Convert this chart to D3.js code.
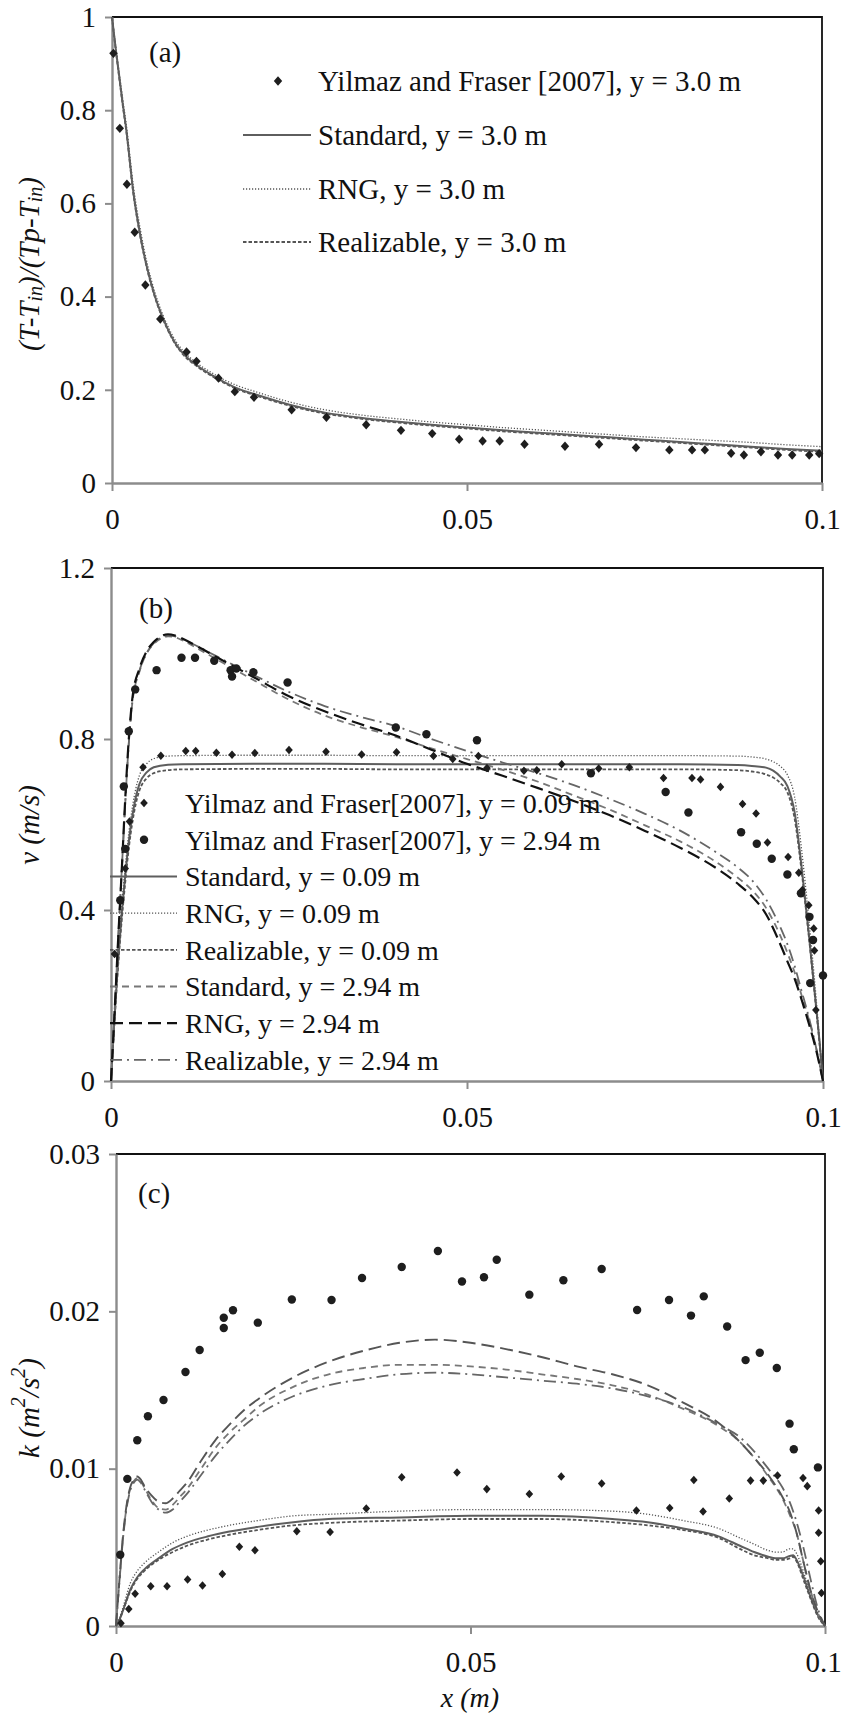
<!DOCTYPE html>
<html>
<head>
<meta charset="utf-8">
<script src="https://cdn.jsdelivr.net/npm/d3@7"></script>
<style>
  body { margin: 0; background: #fff; }
  svg { display: block; }
  text { font-family: "Liberation Serif", "Times New Roman", serif; fill: #111; }
</style>
</head>
<body>
<svg id="fig" width="843" height="1715" font-family="Liberation Serif, Times New Roman, serif"></svg>
<script>
// ---------- shared axis ticks ----------
const xTickVals = [0, 0.05, 0.1];
const xTickText = ["0", "0.05", "0.1"];

// ---------- panel (a): dimensionless temperature ----------
const aYTickVals = [0, 0.2, 0.4, 0.6, 0.8, 1];
const aYTickText = ["0", "0.2", "0.4", "0.6", "0.8", "1"];
const aExpX = [0.0002, 0.0011, 0.0021, 0.0032, 0.0047, 0.0068, 0.0105, 0.0119, 0.0150, 0.0173, 0.0200, 0.0253, 0.0302, 0.0358, 0.0407, 0.0451, 0.0489, 0.0522, 0.0546, 0.0581, 0.0638, 0.0686, 0.0738, 0.0785, 0.0817, 0.0835, 0.0872, 0.0890, 0.0914, 0.0938, 0.0958, 0.0982, 0.0996];
const aExpY = [0.922, 0.761, 0.641, 0.538, 0.425, 0.352, 0.281, 0.261, 0.225, 0.196, 0.184, 0.157, 0.141, 0.125, 0.113, 0.106, 0.094, 0.090, 0.090, 0.083, 0.079, 0.083, 0.076, 0.071, 0.071, 0.071, 0.064, 0.060, 0.067, 0.060, 0.060, 0.060, 0.063];
const aSimX = [0, 0.0005, 0.001, 0.0015, 0.002, 0.003, 0.004, 0.005, 0.006, 0.007, 0.008, 0.009, 0.010, 0.012, 0.014, 0.016, 0.018, 0.020, 0.025, 0.030, 0.035, 0.040, 0.045, 0.050, 0.055, 0.060, 0.065, 0.070, 0.075, 0.080, 0.085, 0.090, 0.095, 0.100];
const aStd  = [1.000, 0.935, 0.875, 0.815, 0.760, 0.625, 0.530, 0.458, 0.403, 0.360, 0.326, 0.298, 0.278, 0.252, 0.232, 0.215, 0.201, 0.191, 0.168, 0.151, 0.140, 0.132, 0.125, 0.119, 0.113, 0.108, 0.103, 0.098, 0.093, 0.088, 0.083, 0.078, 0.073, 0.069];
const aRng  = [1.000, 0.940, 0.882, 0.825, 0.770, 0.638, 0.543, 0.468, 0.411, 0.367, 0.332, 0.304, 0.284, 0.257, 0.237, 0.220, 0.207, 0.197, 0.174, 0.157, 0.146, 0.138, 0.131, 0.125, 0.119, 0.114, 0.109, 0.104, 0.099, 0.095, 0.091, 0.087, 0.082, 0.078];
const aReal = [1.000, 0.933, 0.872, 0.812, 0.757, 0.622, 0.528, 0.456, 0.401, 0.358, 0.324, 0.296, 0.276, 0.250, 0.230, 0.213, 0.199, 0.189, 0.166, 0.149, 0.138, 0.130, 0.123, 0.117, 0.111, 0.106, 0.101, 0.096, 0.091, 0.086, 0.081, 0.076, 0.071, 0.067];

// ---------- panel (b): vertical velocity ----------
const bYTickVals = [0, 0.4, 0.8, 1.2];
const bYTickText = ["0", "0.4", "0.8", "1.2"];
const bExp009X = [0.0005, 0.0020, 0.0026, 0.0045, 0.0070, 0.0105, 0.0119, 0.0148, 0.0170, 0.0202, 0.0250, 0.0302, 0.0352, 0.0401, 0.0453, 0.0480, 0.0516, 0.0528, 0.0580, 0.0598, 0.0633, 0.0685, 0.0728, 0.0776, 0.0816, 0.0828, 0.0856, 0.0887, 0.0906, 0.0922, 0.0951, 0.0966, 0.0971, 0.0980, 0.0987, 0.0988, 0.0990];
const bExp009Y = [0.297, 0.497, 0.607, 0.734, 0.761, 0.772, 0.772, 0.768, 0.763, 0.767, 0.774, 0.770, 0.764, 0.769, 0.760, 0.753, 0.760, 0.732, 0.726, 0.727, 0.741, 0.731, 0.734, 0.709, 0.709, 0.705, 0.688, 0.648, 0.626, 0.558, 0.524, 0.487, 0.447, 0.411, 0.357, 0.305, 0.166];
const bExp294X = [0.0013, 0.0020, 0.0018, 0.0025, 0.0034, 0.0064, 0.0099, 0.0118, 0.0145, 0.0168, 0.0170, 0.0176, 0.0200, 0.0248, 0.0400, 0.0443, 0.0514, 0.0674, 0.0779, 0.0811, 0.0885, 0.0907, 0.0928, 0.0950, 0.0969, 0.0981, 0.0986, 0.0982, 0.1000];
const bExp294Y = [0.423, 0.543, 0.689, 0.818, 0.916, 0.961, 0.990, 0.990, 0.983, 0.961, 0.946, 0.965, 0.956, 0.932, 0.827, 0.811, 0.797, 0.720, 0.676, 0.628, 0.582, 0.555, 0.520, 0.483, 0.439, 0.384, 0.330, 0.229, 0.247];
const bLowX = [0, 0.0005, 0.001, 0.0015, 0.002, 0.0025, 0.003, 0.0035, 0.004, 0.005, 0.006, 0.008, 0.010, 0.020, 0.030, 0.040, 0.050, 0.060, 0.070, 0.080, 0.088, 0.090, 0.092, 0.093, 0.094, 0.095, 0.096, 0.097, 0.098, 0.099, 0.0995, 0.100];
const bStd009  = [0, 0.15, 0.28, 0.39, 0.48, 0.56, 0.62, 0.665, 0.695, 0.722, 0.734, 0.740, 0.741, 0.742, 0.742, 0.741, 0.741, 0.741, 0.741, 0.741, 0.739, 0.737, 0.733, 0.726, 0.712, 0.690, 0.630, 0.500, 0.345, 0.180, 0.095, 0];
const bRng009  = [0, 0.16, 0.30, 0.41, 0.50, 0.58, 0.64, 0.685, 0.715, 0.742, 0.754, 0.760, 0.761, 0.762, 0.762, 0.761, 0.761, 0.761, 0.761, 0.761, 0.760, 0.758, 0.753, 0.747, 0.736, 0.716, 0.665, 0.540, 0.380, 0.200, 0.100, 0];
const bReal009 = [0, 0.14, 0.27, 0.375, 0.465, 0.545, 0.605, 0.650, 0.680, 0.708, 0.720, 0.727, 0.729, 0.730, 0.730, 0.729, 0.729, 0.729, 0.729, 0.729, 0.727, 0.724, 0.717, 0.710, 0.697, 0.675, 0.615, 0.490, 0.340, 0.175, 0.090, 0];
const bHighX = [0, 0.0005, 0.001, 0.0015, 0.002, 0.0025, 0.003, 0.004, 0.005, 0.006, 0.007, 0.008, 0.009, 0.010, 0.012, 0.015, 0.020, 0.025, 0.030, 0.035, 0.040, 0.045, 0.050, 0.055, 0.060, 0.065, 0.070, 0.075, 0.080, 0.085, 0.088, 0.090, 0.092, 0.094, 0.095, 0.096, 0.097, 0.098, 0.099, 0.100];
const bStd294  = [0, 0.16, 0.33, 0.49, 0.65, 0.79, 0.885, 0.958, 1.000, 1.022, 1.035, 1.040, 1.038, 1.031, 1.013, 0.985, 0.938, 0.892, 0.855, 0.828, 0.805, 0.778, 0.753, 0.728, 0.700, 0.668, 0.635, 0.598, 0.560, 0.512, 0.476, 0.447, 0.405, 0.340, 0.300, 0.255, 0.200, 0.145, 0.080, 0];
const bRng294  = [0, 0.16, 0.33, 0.49, 0.66, 0.80, 0.895, 0.965, 1.005, 1.027, 1.040, 1.045, 1.042, 1.035, 1.018, 0.990, 0.945, 0.900, 0.865, 0.835, 0.808, 0.775, 0.742, 0.714, 0.685, 0.655, 0.622, 0.585, 0.545, 0.498, 0.462, 0.432, 0.390, 0.320, 0.280, 0.240, 0.190, 0.135, 0.075, 0];
const bReal294 = [0, 0.16, 0.33, 0.49, 0.65, 0.79, 0.888, 0.960, 1.001, 1.024, 1.037, 1.042, 1.040, 1.034, 1.018, 0.992, 0.950, 0.910, 0.877, 0.852, 0.830, 0.800, 0.772, 0.745, 0.720, 0.692, 0.660, 0.625, 0.585, 0.535, 0.500, 0.470, 0.425, 0.360, 0.320, 0.270, 0.210, 0.150, 0.080, 0];

// ---------- panel (c): turbulent kinetic energy ----------
const cYTickVals = [0, 0.01, 0.02, 0.03];
const cYTickText = ["0", "0.01", "0.02", "0.03"];
const cExp294X = [0.0006, 0.0016, 0.0030, 0.0045, 0.0067, 0.0098, 0.0118, 0.0152, 0.0152, 0.0165, 0.0200, 0.0248, 0.0304, 0.0347, 0.0403, 0.0454, 0.0488, 0.0519, 0.0537, 0.0583, 0.0631, 0.0685, 0.0735, 0.0780, 0.0811, 0.0829, 0.0862, 0.0888, 0.0908, 0.0932, 0.0950, 0.0956, 0.0990];
const cExp294Y = [0.00453, 0.00935, 0.01181, 0.01333, 0.01436, 0.01614, 0.01754, 0.01894, 0.01959, 0.02007, 0.01928, 0.02075, 0.02072, 0.02212, 0.02282, 0.02383, 0.02190, 0.02217, 0.02328, 0.02106, 0.02198, 0.02269, 0.02008, 0.02072, 0.01973, 0.02095, 0.01904, 0.01690, 0.01737, 0.01640, 0.01286, 0.01123, 0.01008];
const cExp009X = [0.0007, 0.0018, 0.0027, 0.0049, 0.0072, 0.0101, 0.0122, 0.0150, 0.0174, 0.0196, 0.0255, 0.0302, 0.0353, 0.0403, 0.0481, 0.0523, 0.0583, 0.0628, 0.0685, 0.0734, 0.0781, 0.0815, 0.0828, 0.0865, 0.0895, 0.0913, 0.0933, 0.0969, 0.0975, 0.0991, 0.0991, 0.0994, 0.0995];
const cExp009Y = [0.00017, 0.00108, 0.00205, 0.00253, 0.00253, 0.00296, 0.00258, 0.00330, 0.00504, 0.00482, 0.00602, 0.00598, 0.00747, 0.00945, 0.00976, 0.00870, 0.00839, 0.00950, 0.00906, 0.00734, 0.00750, 0.00928, 0.00728, 0.00810, 0.00924, 0.00924, 0.00956, 0.00940, 0.00889, 0.00734, 0.00592, 0.00412, 0.00210];
const cLowX = [0, 0.0005, 0.001, 0.002, 0.003, 0.004, 0.006, 0.008, 0.010, 0.013, 0.016, 0.020, 0.025, 0.030, 0.040, 0.050, 0.060, 0.070, 0.075, 0.080, 0.085, 0.088, 0.090, 0.092, 0.093, 0.094, 0.095, 0.0955, 0.096, 0.097, 0.098, 0.099, 0.100];
const cStd009  = [0, 0.0004, 0.0010, 0.0023, 0.0031, 0.0036, 0.0043, 0.0049, 0.0053, 0.0057, 0.0060, 0.0063, 0.0066, 0.0068, 0.0069, 0.0070, 0.0070, 0.0068, 0.0066, 0.0062, 0.0057, 0.0051, 0.0047, 0.0044, 0.0043, 0.0043, 0.00445, 0.0045, 0.0042, 0.0031, 0.0018, 0.0007, 0];
const cRng009  = [0, 0.0005, 0.0012, 0.0027, 0.0035, 0.0040, 0.0047, 0.0053, 0.0057, 0.0061, 0.0064, 0.0067, 0.0070, 0.0071, 0.0073, 0.0074, 0.0074, 0.0073, 0.0071, 0.0067, 0.0062, 0.0056, 0.0052, 0.0048, 0.0047, 0.0047, 0.0049, 0.0049, 0.0046, 0.0034, 0.0020, 0.0008, 0];
const cReal009 = [0, 0.0004, 0.0010, 0.0022, 0.0030, 0.0035, 0.0042, 0.0047, 0.0051, 0.0055, 0.0058, 0.0061, 0.0064, 0.00655, 0.0067, 0.0068, 0.0068, 0.0066, 0.0064, 0.0061, 0.0056, 0.0049, 0.0045, 0.0043, 0.0042, 0.0042, 0.0043, 0.0044, 0.0041, 0.0029, 0.0017, 0.0006, 0];
const cHighX = [0, 0.0005, 0.001, 0.0015, 0.002, 0.0025, 0.003, 0.0035, 0.004, 0.005, 0.006, 0.007, 0.008, 0.009, 0.010, 0.012, 0.014, 0.016, 0.018, 0.020, 0.025, 0.030, 0.035, 0.040, 0.045, 0.050, 0.055, 0.060, 0.065, 0.070, 0.075, 0.080, 0.085, 0.088, 0.090, 0.092, 0.094, 0.095, 0.096, 0.097, 0.098, 0.099, 0.100];
const cStd294  = [0, 0.0030, 0.0057, 0.0076, 0.0087, 0.0092, 0.0094, 0.0092, 0.0088, 0.0080, 0.0075, 0.0074, 0.0077, 0.0082, 0.0087, 0.0100, 0.0113, 0.0123, 0.0131, 0.0139, 0.0152, 0.0160, 0.0164, 0.0166, 0.0166, 0.0165, 0.0163, 0.0160, 0.0157, 0.0153, 0.0147, 0.0138, 0.0127, 0.0117, 0.0107, 0.0095, 0.0081, 0.0071, 0.0059, 0.0040, 0.0022, 0.0008, 0];
const cRng294  = [0, 0.0030, 0.0058, 0.0077, 0.0088, 0.0093, 0.0095, 0.0093, 0.0089, 0.0083, 0.0079, 0.0078, 0.0081, 0.0086, 0.0091, 0.0105, 0.0118, 0.0128, 0.0137, 0.0144, 0.0158, 0.0168, 0.0175, 0.0180, 0.0182, 0.0180, 0.0176, 0.0171, 0.0165, 0.0160, 0.0153, 0.0142, 0.0129, 0.0117, 0.0107, 0.0096, 0.0082, 0.0073, 0.0059, 0.0040, 0.0022, 0.0009, 0];
const cReal294 = [0, 0.0029, 0.0056, 0.0075, 0.0086, 0.0091, 0.0093, 0.0091, 0.0087, 0.0079, 0.0074, 0.0072, 0.0074, 0.0079, 0.0084, 0.0096, 0.0108, 0.0118, 0.0127, 0.0134, 0.0146, 0.0153, 0.0157, 0.0160, 0.0161, 0.0160, 0.0158, 0.0156, 0.0154, 0.0151, 0.0146, 0.0139, 0.0128, 0.0120, 0.0111, 0.0100, 0.0088, 0.0079, 0.0066, 0.0049, 0.0029, 0.0011, 0];

// ---------- line styles ----------
const lineStyles = {
  std009:  { stroke: "#5e5e5e", width: 2.0, dash: null },
  rng009:  { stroke: "#555", width: 1.3, dash: "1.2,1.8" },
  real009: { stroke: "#555", width: 1.8, dash: "3.5,2" },
  std294:  { stroke: "#777", width: 1.8, dash: "7,5" },
  rng294:  { stroke: "#111", width: 2.2, dash: "13,6" },
  rng294c: { stroke: "#555", width: 1.9, dash: "13,6" },
  real294: { stroke: "#666", width: 1.8, dash: "12,5,2,5" }
};

const FONT = '"Liberation Serif", "Times New Roman", serif';
const TICK_FONT = 29;
const svg = d3.select("#fig");
svg.append("rect").attr("width", 843).attr("height", 1715).attr("fill", "#fff");

const diamond = (s) => `M0,${-s * 1.12}L${s},0L0,${s * 1.12}L${-s},0Z`;

function makePanel(box, yMax, yTickVals, yTickText) {
  const x = d3.scaleLinear().domain([0, 0.1]).range([box.left, box.right]);
  const y = d3.scaleLinear().domain([0, yMax]).range([box.bottom, box.top]);
  const g = svg.append("g");

  // top and right frame
  g.append("path")
    .attr("d", `M${box.left},${box.top}H${box.right}V${box.bottom}`)
    .attr("fill", "none").attr("stroke", "#111").attr("stroke-width", 1.8);

  const yAxis = g.append("g")
    .attr("transform", `translate(${box.left},0)`)
    .call(d3.axisLeft(y).tickValues(yTickVals).tickFormat((d, i) => yTickText[i])
      .tickSize(7).tickSizeOuter(0).tickPadding(9));
  const xAxis = g.append("g")
    .attr("transform", `translate(0,${box.bottom})`)
    .call(d3.axisBottom(x).tickValues(xTickVals).tickFormat((d, i) => xTickText[i])
      .tickSize(8).tickSizeOuter(0));
  [yAxis, xAxis].forEach(a => {
    a.attr("font-family", FONT).attr("font-size", TICK_FONT);
    a.select(".domain").attr("stroke", "#8c8c8c").attr("stroke-width", 2.4);
    a.selectAll(".tick line").attr("stroke", "#8c8c8c").attr("stroke-width", 2);
    a.selectAll("text").attr("font-size", TICK_FONT).attr("fill", "#111").style("font-family", FONT);
  });
  // keep the rightmost label inside the page edge
  xAxis.selectAll("text").attr("y", 36).attr("dy", "0.35em")
    .attr("x", d => Math.min(0, 841 - x(d) - 18));

  const curves = g.append("g").attr("fill", "none");
  const markers = g.append("g").attr("fill", "#1e1e1e");
  return { x, y, g, curves, markers };
}

function drawCurve(p, xs, ys, style) {
  const line = d3.line().x(d => p.x(d[0])).y(d => p.y(d[1])).curve(d3.curveMonotoneX);
  p.curves.append("path")
    .attr("d", line(d3.zip(xs, ys)))
    .attr("stroke", style.stroke)
    .attr("stroke-width", style.width)
    .attr("stroke-dasharray", style.dash);
}

function drawDiamonds(p, xs, ys, s) {
  p.markers.selectAll(null).data(d3.zip(xs, ys)).join("path")
    .attr("transform", d => `translate(${p.x(d[0])},${p.y(d[1])})`)
    .attr("d", diamond(s));
}

function drawCircles(p, xs, ys, r) {
  p.markers.selectAll(null).data(d3.zip(xs, ys)).join("circle")
    .attr("cx", d => p.x(d[0])).attr("cy", d => p.y(d[1])).attr("r", r);
}

function legendLine(g, x1, x2, yy, style) {
  g.append("line").attr("x1", x1).attr("x2", x2).attr("y1", yy).attr("y2", yy)
    .attr("stroke", style.stroke).attr("stroke-width", style.width)
    .attr("stroke-dasharray", style.dash);
}

function legendText(g, x0, yy, str, size) {
  g.append("text").attr("x", x0).attr("y", yy).attr("dy", "0.35em")
    .attr("font-size", size).style("font-family", FONT).text(str);
}

// ===== panel (a) =====
const pa = makePanel({ left: 112, right: 822, top: 17, bottom: 483 }, 1, aYTickVals, aYTickText);
drawCurve(pa, aSimX, aRng, lineStyles.rng009);
drawCurve(pa, aSimX, aReal, lineStyles.real009);
drawCurve(pa, aSimX, aStd, lineStyles.std009);
drawDiamonds(pa, aExpX, aExpY, 4.2);
pa.g.append("text").attr("x", 149).attr("y", 52).attr("dy", "0.35em").attr("font-size", 29).text("(a)");
{
  const lg = pa.g.append("g");
  lg.append("path").attr("transform", "translate(278,81)").attr("d", diamond(4.2)).attr("fill", "#1e1e1e");
  legendText(lg, 318, 81, "Yilmaz and Fraser [2007], y = 3.0 m", 29);
  legendLine(lg, 243, 311, 135, lineStyles.std009);
  legendText(lg, 318, 135, "Standard, y = 3.0 m", 29);
  legendLine(lg, 243, 311, 189, lineStyles.rng009);
  legendText(lg, 318, 189, "RNG, y = 3.0 m", 29);
  legendLine(lg, 243, 311, 242, lineStyles.real009);
  legendText(lg, 318, 242, "Realizable, y = 3.0 m", 29);
}
{
  const t = svg.append("text").attr("transform", "translate(29,264) rotate(-90)")
    .attr("text-anchor", "middle").attr("dominant-baseline", "central")
    .attr("font-size", 29).attr("font-style", "italic");
  t.append("tspan").text("(T-T");
  t.append("tspan").attr("dy", 6).attr("font-size", 20).text("in");
  t.append("tspan").attr("dy", -6).text(")/(Tp-T");
  t.append("tspan").attr("dy", 6).attr("font-size", 20).text("in");
  t.append("tspan").attr("dy", -6).text(")");
}

// ===== panel (b) =====
const pb = makePanel({ left: 111, right: 823, top: 568, bottom: 1081 }, 1.2, bYTickVals, bYTickText);
drawCurve(pb, bLowX, bStd009, lineStyles.std009);
drawCurve(pb, bLowX, bRng009, lineStyles.rng009);
drawCurve(pb, bLowX, bReal009, lineStyles.real009);
drawCurve(pb, bHighX, bStd294, lineStyles.std294);
drawCurve(pb, bHighX, bReal294, lineStyles.real294);
drawCurve(pb, bHighX, bRng294, lineStyles.rng294);
drawDiamonds(pb, bExp009X, bExp009Y, 3.8);
drawCircles(pb, bExp294X, bExp294Y, 4.2);
pb.g.append("text").attr("x", 139).attr("y", 608).attr("dy", "0.35em").attr("font-size", 29).text("(b)");
{
  const lg = pb.g.append("g");
  const rows = d3.range(8).map(i => 803 + i * 36.7);
  lg.append("path").attr("transform", `translate(144,${rows[0]})`).attr("d", diamond(3.8)).attr("fill", "#1e1e1e");
  legendText(lg, 185, rows[0], "Yilmaz and Fraser[2007], y = 0.09 m", 28);
  lg.append("circle").attr("cx", 144).attr("cy", rows[1]).attr("r", 4.2).attr("fill", "#1e1e1e");
  legendText(lg, 185, rows[1], "Yilmaz and Fraser[2007], y = 2.94 m", 28);
  const entries = [
    [lineStyles.std009, "Standard, y = 0.09 m"],
    [lineStyles.rng009, "RNG, y = 0.09 m"],
    [lineStyles.real009, "Realizable, y = 0.09 m"],
    [lineStyles.std294, "Standard, y = 2.94 m"],
    [lineStyles.rng294, "RNG, y = 2.94 m"],
    [lineStyles.real294, "Realizable, y = 2.94 m"]
  ];
  entries.forEach((e, i) => {
    legendLine(lg, 110, 177, rows[i + 2], e[0]);
    legendText(lg, 185, rows[i + 2], e[1], 28);
  });
}
svg.append("text").attr("transform", "translate(29,825) rotate(-90)")
  .attr("text-anchor", "middle").attr("dominant-baseline", "central")
  .attr("font-size", 29).attr("font-style", "italic").text("v (m/s)");

// ===== panel (c) =====
const pc = makePanel({ left: 116, right: 825, top: 1154, bottom: 1626 }, 0.03, cYTickVals, cYTickText);
drawCurve(pc, cLowX, cStd009, lineStyles.std009);
drawCurve(pc, cLowX, cRng009, lineStyles.rng009);
drawCurve(pc, cLowX, cReal009, lineStyles.real009);
drawCurve(pc, cHighX, cStd294, lineStyles.std294);
drawCurve(pc, cHighX, cReal294, lineStyles.real294);
drawCurve(pc, cHighX, cRng294, lineStyles.rng294c);
drawDiamonds(pc, cExp009X, cExp009Y, 3.8);
drawCircles(pc, cExp294X, cExp294Y, 4.2);
pc.g.append("text").attr("x", 138).attr("y", 1193).attr("dy", "0.35em").attr("font-size", 29).text("(c)");
{
  const t = svg.append("text").attr("transform", "translate(29,1408) rotate(-90)")
    .attr("text-anchor", "middle").attr("dominant-baseline", "central")
    .attr("font-size", 29).attr("font-style", "italic");
  t.append("tspan").text("k (m");
  t.append("tspan").attr("dy", -11).attr("font-size", 20).text("2");
  t.append("tspan").attr("dy", 11).text("/s");
  t.append("tspan").attr("dy", -11).attr("font-size", 20).text("2");
  t.append("tspan").attr("dy", 11).text(")");
}
svg.append("text").attr("x", 470).attr("y", 1697).attr("dy", "0.35em")
  .attr("text-anchor", "middle").attr("font-size", 28).attr("font-style", "italic").text("x (m)");
</script>
</body>
</html>
